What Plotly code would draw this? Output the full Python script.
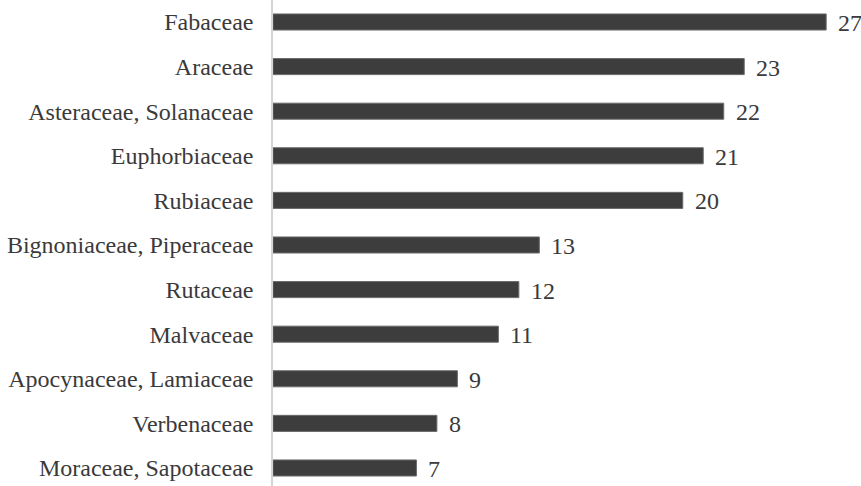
import plotly.graph_objects as go

families = [
    "Fabaceae",
    "Araceae",
    "Asteraceae, Solanaceae",
    "Euphorbiaceae",
    "Rubiaceae",
    "Bignoniaceae, Piperaceae",
    "Rutaceae",
    "Malvaceae",
    "Apocynaceae, Lamiaceae",
    "Verbenaceae",
    "Moraceae, Sapotaceae",
]
counts = [27, 23, 22, 21, 20, 13, 12, 11, 9, 8, 7]

FONT = "'Times New Roman', 'Liberation Serif', 'DejaVu Serif', serif"
TEXT_COLOR = "#3a3a3a"
BAR_COLOR = "#3d3d3d"
FONT_SIZE = 24

fig = go.Figure(
    go.Bar(
        x=counts,
        y=families,
        orientation="h",
        marker=dict(color=BAR_COLOR, line=dict(color="#6a6a6a", width=1)),
        cliponaxis=False,
    )
)

# value labels just past the end of each bar
for fam, val in zip(families, counts):
    fig.add_annotation(
        x=val,
        y=fam,
        text=str(val),
        showarrow=False,
        xanchor="left",
        yanchor="middle",
        xshift=10,
        yshift=-1,
        font=dict(family=FONT, size=FONT_SIZE, color=TEXT_COLOR),
    )

fig.update_layout(
    width=861,
    height=486,
    margin=dict(l=273, r=0, t=0, b=0),
    paper_bgcolor="white",
    plot_bgcolor="white",
    bargap=0.64,
    showlegend=False,
    font=dict(family=FONT, size=FONT_SIZE, color=TEXT_COLOR),
)

fig.update_xaxes(
    range=[0, 28.7],
    visible=False,
    showgrid=False,
    zeroline=False,
)

fig.update_yaxes(
    categoryorder="array",
    categoryarray=families,
    range=[10.404, -0.493],
    showgrid=False,
    zeroline=False,
    showline=True,
    linecolor="#d4d4d4",
    linewidth=1.5,
    ticks="",
    ticklabelstandoff=13,
    tickfont=dict(family=FONT, size=FONT_SIZE, color=TEXT_COLOR),
)

fig.write_html("out.html")
